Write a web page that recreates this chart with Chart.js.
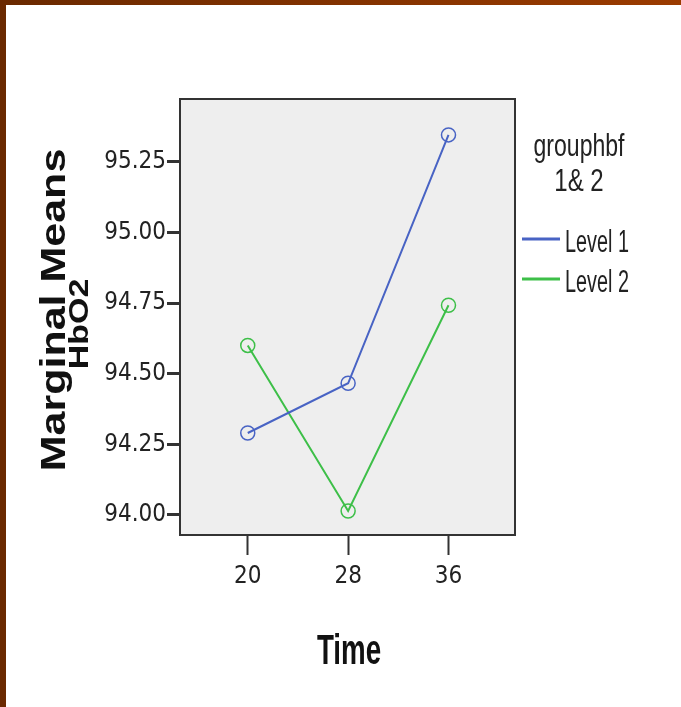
<!DOCTYPE html>
<html>
<head>
<meta charset="utf-8">
<script src="https://cdn.jsdelivr.net/npm/chart.js@4"></script>
<style>
  html, body { margin: 0; padding: 0; }
  body { width: 681px; height: 707px; position: relative; overflow: hidden;
         background: linear-gradient(90deg, #6a2900, #9b3b00); }
  #paper { position: absolute; left: 6px; top: 5px; right: 0; bottom: 0; background: #fff; }
  #c { position: absolute; left: 0; top: 0; }
</style>
</head>
<body>
<div id="paper"></div>
<canvas id="c" width="681" height="707"></canvas>
<script>
// data
let times = [20, 28, 36];
let level1 = [94.29, 94.466, 95.345];
let level2 = [94.60, 94.014, 94.742];
let seriesNames = ["Level 1", "Level 2"];
let yTicks = [94.00, 94.25, 94.50, 94.75, 95.00, 95.25];
let legendTitle = ["grouphbf", "1& 2"];

let narrow = "'DejaVu Sans Condensed', 'Liberation Sans', Arial, sans-serif";
let wide = "'Liberation Sans', Arial, sans-serif";

function points(vals){
    let out = [];
    for (let i=0; i<times.length; i++){
        out.push({x: times[i], y: vals[i]});
    }
    return out;
}

// text squashed sideways like the original export
function squashText(ctx, txt, x, y, sx, rot){
    ctx.save();
    ctx.translate(x, y);
    ctx.scale(sx, 1);
    if (rot) ctx.rotate(rot);
    ctx.fillText(txt, 0, 0);
    ctx.restore();
}

// grey plot box, frame, titles and legend
let decor = {
    id: 'decor',
    beforeDatasetsDraw(chart){
        let a = chart.chartArea, ctx = chart.ctx;
        ctx.save();
        ctx.fillStyle = '#eeeeee';
        ctx.fillRect(a.left, a.top, a.right-a.left, a.bottom-a.top);
        ctx.restore();
    },
    afterDraw(chart){
        let a = chart.chartArea, ctx = chart.ctx;
        ctx.save();
        ctx.strokeStyle = '#333';
        ctx.lineWidth = 2;
        ctx.strokeRect(a.left, a.top, a.right-a.left, a.bottom-a.top);

        // y title, two lines of different size
        ctx.fillStyle = '#111';
        ctx.textAlign = 'center';
        ctx.textBaseline = 'alphabetic';
        ctx.font = "bold 43px " + wide;
        squashText(ctx, "Marginal Means", 65, 310, 0.8, -Math.PI/2);
        ctx.font = "bold 34px " + wide;
        squashText(ctx, "HbO2", 88, 324, 0.8, -Math.PI/2);

        // x title
        ctx.font = "bold 42px " + wide;
        squashText(ctx, "Time", 349, 664, 0.66);

        // legend
        ctx.fillStyle = '#222';
        ctx.font = "32px " + wide;
        squashText(ctx, legendTitle[0], 579, 156, 0.72);
        squashText(ctx, legendTitle[1], 579, 191, 0.75);
        ctx.textAlign = 'left';
        ctx.font = "31px " + wide;
        chart.data.datasets.forEach(function(ds, i){
            let y = 239 + i*40;
            ctx.strokeStyle = ds.borderColor;
            ctx.lineWidth = 3;
            ctx.beginPath();
            ctx.moveTo(522, y);
            ctx.lineTo(560, y);
            ctx.stroke();
            squashText(ctx, ds.label, 565, y+13, 0.64);
        });
        ctx.restore();
    }
};

new Chart(document.getElementById("c"), {
    type: 'line',
    data: {
        datasets: [{
            label: seriesNames[0],
            data: points(level1),
            borderColor: '#4863c4',
            backgroundColor: 'transparent',
            borderWidth: 2,
            pointRadius: 7,
            pointBorderWidth: 1.5,
            pointBackgroundColor: 'transparent',
            pointBorderColor: '#4863c4'
        }, {
            label: seriesNames[1],
            data: points(level2),
            borderColor: '#3dbf48',
            backgroundColor: 'transparent',
            borderWidth: 2,
            pointRadius: 7,
            pointBorderWidth: 1.5,
            pointBackgroundColor: 'transparent',
            pointBorderColor: '#3dbf48'
        }]
    },
    options: {
        responsive: false,
        animation: false,
        layout: { padding: { left: 80, top: 99, right: 166, bottom: 72 } },
        plugins: { legend: { display: false }, tooltip: { enabled: false } },
        scales: {
            x: {
                type: 'linear',
                min: 14.6,
                max: 41.3,
                afterBuildTicks: function(scale){ scale.ticks = times.map(v => ({value: v})); },
                afterFit: function(scale){ scale.height = 100; },
                grid: { drawOnChartArea: false, tickLength: 20, tickColor: '#333', tickWidth: 2 },
                border: { display: false },
                ticks: { color: '#222', padding: 7, font: { family: narrow, size: 24 } }
            },
            y: {
                min: 93.929,
                max: 95.472,
                afterBuildTicks: function(scale){ scale.ticks = yTicks.map(v => ({value: v})); },
                afterFit: function(scale){ scale.width = 100; },
                grid: { drawOnChartArea: false, tickLength: 13, tickColor: '#333', tickWidth: 3 },
                border: { display: false },
                ticks: {
                    color: '#222', padding: 1,
                    font: { family: narrow, size: 24 },
                    callback: function(v){ return Number(v).toFixed(2); }
                }
            }
        }
    },
    plugins: [decor]
});
</script>
</body>
</html>
